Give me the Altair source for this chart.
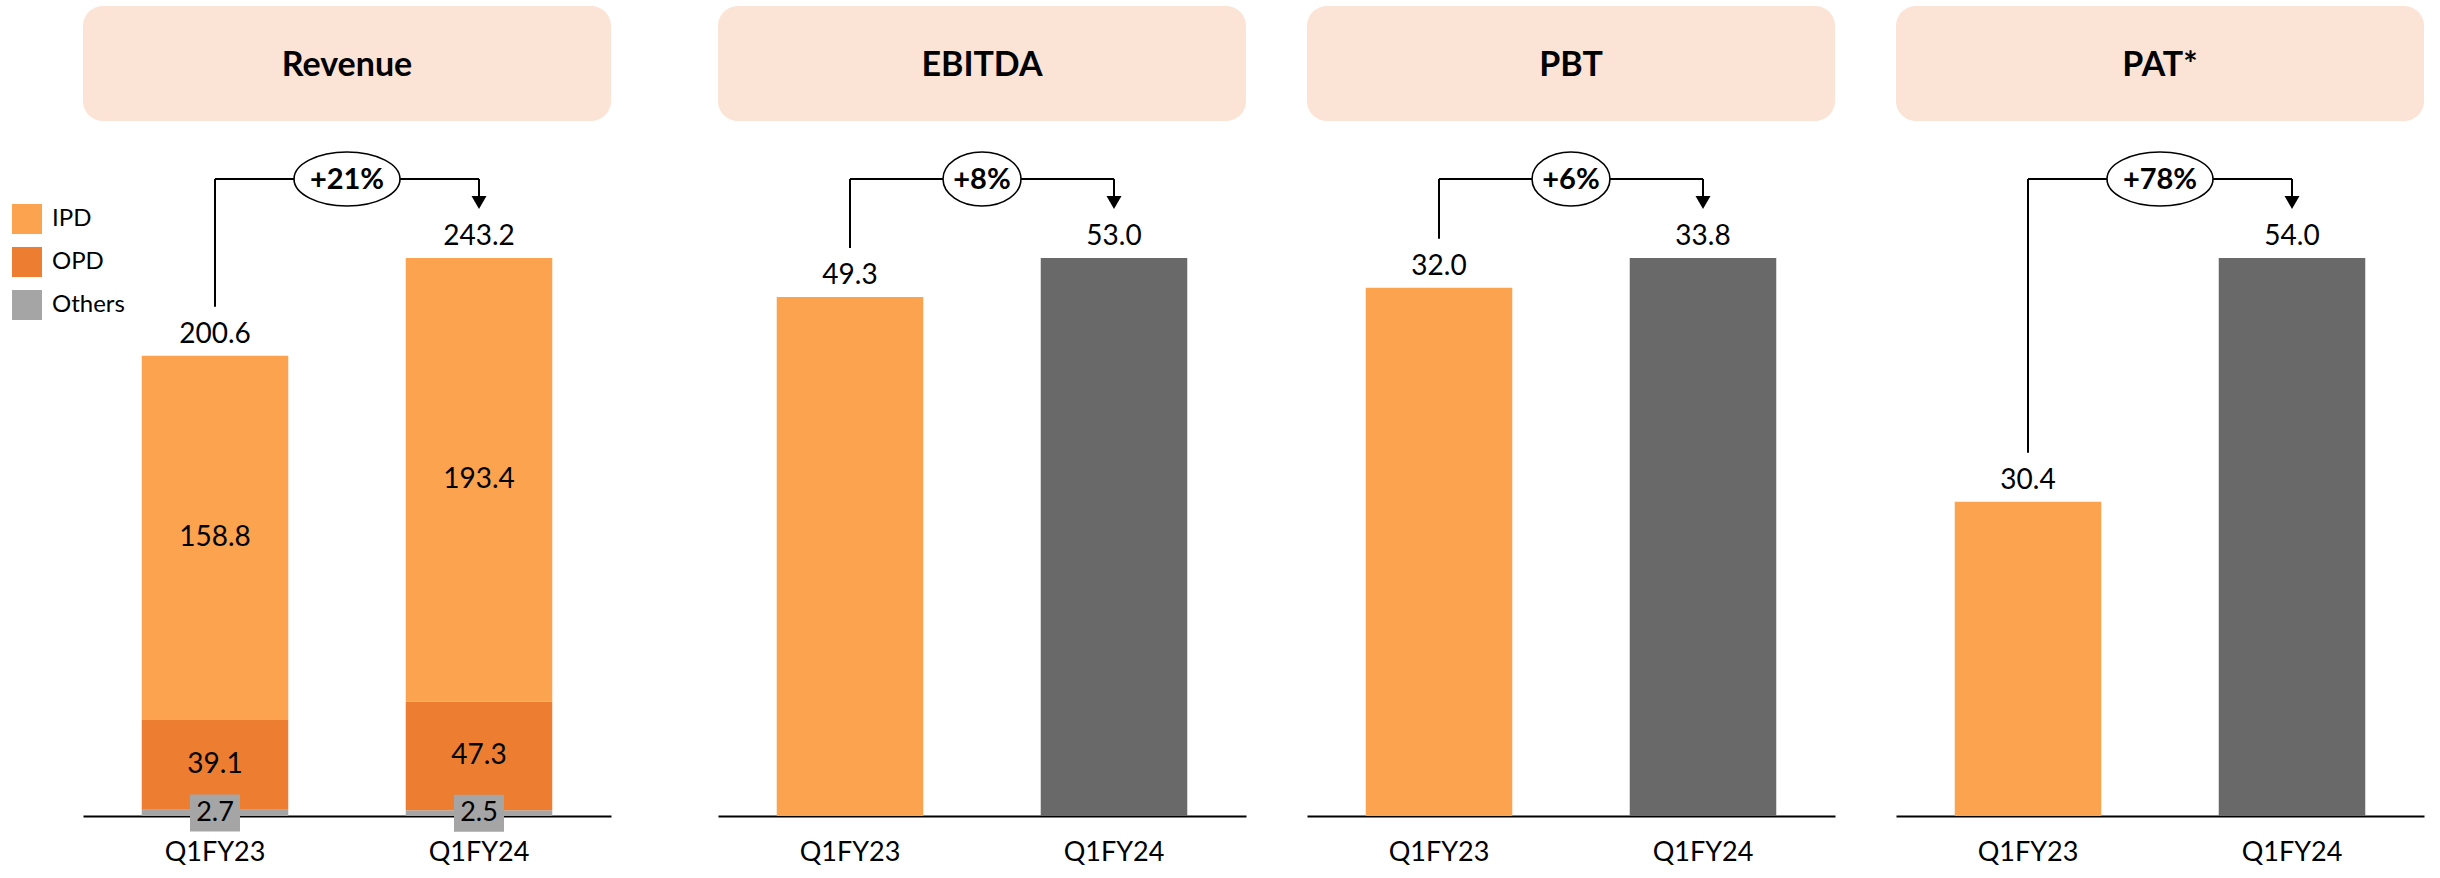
import altair as alt
import pandas as pd

# ---------------- data ----------------
quarters = ["Q1FY23", "Q1FY24"]
segments = ["IPD", "OPD", "Others"]
ipd = [158.8, 193.4]
opd = [39.1, 47.3]
others = [2.7, 2.5]
revenue_total = [200.6, 243.2]
ebitda = [49.3, 53.0]
pbt = [32.0, 33.8]
pat = [30.4, 54.0]
titles = ["Revenue", "EBITDA", "PBT", "PAT*"]
growth_labels = ["+21%", "+8%", "+6%", "+78%"]

# ---------------- style ----------------
FONT = "Lato"
C_IPD = "#FCA350"
C_OPD = "#ED7D31"
C_OTH = "#A5A5A5"
C_DARK = "#696969"
C_HEAD = "#FBE4D5"
W = 528
H = 810
BRACKET_Y = 173
LABEL_GAP = 13          # value label baseline above bar top
LINE_GAP = 49           # bracket start above bar top

xscale = alt.Scale(domain=quarters, paddingInner=0.445, paddingOuter=0.2225)
xaxis = alt.Axis(title=None)


def X(field):
    return alt.X(field, scale=xscale, axis=xaxis)


def yscale(maxv):
    return alt.Scale(domain=[0, maxv * H / 558.0], nice=False, zero=True)


def header(title):
    d = pd.DataFrame({"t": [title]})
    box = alt.Chart(d).mark_rect(fill=C_HEAD, cornerRadius=20).encode(
        x=alt.value(0), x2=alt.value(W), y=alt.value(0), y2=alt.value(115)
    )
    txt = alt.Chart(d).mark_text(
        font=FONT, fontSize=34, fontWeight="bold", color="black", baseline="middle"
    ).encode(text="t:N", x=alt.value(W / 2), y=alt.value(60))
    return [box, txt]


def bracket(v1, v2, g, ys):
    d = pd.DataFrame({"q1": [quarters[0]], "q2": [quarters[1]], "v1": [v1], "v2": [v2], "g": [g]})
    base = alt.Chart(d)
    left = base.mark_rule(color="black", strokeWidth=2, yOffset=-LINE_GAP).encode(
        x=X("q1:N"),
        y=alt.Y("v1:Q", scale=ys, axis=None),
        y2=alt.value(BRACKET_Y),
    )
    horiz = base.mark_rule(color="black", strokeWidth=2).encode(
        x=X("q1:N"),
        x2=alt.X2("q2"),
        y=alt.value(BRACKET_Y),
    )
    right = base.mark_rule(color="black", strokeWidth=2, yOffset=-LINE_GAP - 10).encode(
        x=X("q2:N"),
        y=alt.Y("v2:Q", scale=ys, axis=None),
        y2=alt.value(BRACKET_Y),
    )
    head = base.mark_point(
        shape="triangle-down", filled=True, color="black", opacity=1, size=225,
        yOffset=-LINE_GAP - 6.5,
    ).encode(
        x=X("q2:N"),
        y=alt.Y("v2:Q", scale=ys, axis=None),
    )
    ew = 78 if len(g) <= 3 else 106
    r = 54.0 / ew
    path = f"M-1,0A1,{r:.4f} 0 1,1 1,0A1,{r:.4f} 0 1,1 -1,0Z"
    ell = base.mark_point(
        shape=path, filled=True, fill="white", stroke="black", strokeWidth=1.6,
        opacity=1, size=ew * ew,
    ).encode(x=alt.value(W / 2), y=alt.value(BRACKET_Y))
    gtxt = base.mark_text(
        font=FONT, fontSize=29, fontWeight="bold", color="black", baseline="middle"
    ).encode(text="g:N", x=alt.value(W / 2), y=alt.value(BRACKET_Y + 1))
    return [left, horiz, right, head, ell, gtxt]


# ---------------- Revenue panel ----------------
rev_rows = []
for i, q in enumerate(quarters):
    rev_rows.append({"quarter": q, "segment": "Others", "ord": 0, "value": others[i]})
    rev_rows.append({"quarter": q, "segment": "OPD", "ord": 1, "value": opd[i]})
    rev_rows.append({"quarter": q, "segment": "IPD", "ord": 2, "value": ipd[i]})
rev_df = pd.DataFrame(rev_rows)
tot_df = pd.DataFrame({"quarter": quarters, "total": revenue_total})
ys_rev = yscale(max(revenue_total))

rev_base = alt.Chart(rev_df).transform_stack(
    stack="value", as_=["v0", "v1"], groupby=["quarter"], sort=[alt.SortField("ord", order="ascending")]
).transform_calculate(mid="(datum.v0 + datum.v1) / 2", lbl="format(datum.value, '.1f')")

rev_bars = rev_base.mark_bar().encode(
    x=X("quarter:N"),
    y=alt.Y("v0:Q", scale=ys_rev, axis=None),
    y2="v1:Q",
    color=alt.Color(
        "segment:N",
        scale=alt.Scale(domain=segments, range=[C_IPD, C_OPD, C_OTH]),
        legend=alt.Legend(
            orient="none", legendX=-71, legendY=198, title=None, symbolType="square",
            symbolSize=900, symbolStrokeWidth=0, symbolOpacity=1, labelFont=FONT,
            labelFontSize=24, labelColor="black", rowPadding=13, labelOffset=10,
        ),
    ),
)
rev_seg_txt = rev_base.transform_filter("datum.segment != 'Others'").mark_text(
    font=FONT, fontSize=28, color="black", baseline="middle"
).encode(
    x=X("quarter:N"),
    y=alt.Y("mid:Q", scale=ys_rev, axis=None),
    text="lbl:N",
)
oth_box = rev_base.transform_filter("datum.segment == 'Others'").mark_point(
    shape="M-1,-0.74L1,-0.74L1,0.74L-1,0.74Z", filled=True, fill=C_OTH, opacity=1,
    strokeWidth=0, size=2500,
).encode(
    x=X("quarter:N"),
    y=alt.Y("mid:Q", scale=ys_rev, axis=None),
)
oth_txt = rev_base.transform_filter("datum.segment == 'Others'").mark_text(
    font=FONT, fontSize=27, color="black", baseline="middle"
).encode(
    x=X("quarter:N"),
    y=alt.Y("mid:Q", scale=ys_rev, axis=None),
    text="lbl:N",
)
rev_tot_txt = alt.Chart(tot_df).transform_calculate(lbl="format(datum.total, '.1f')").mark_text(
    font=FONT, fontSize=28, color="black", baseline="alphabetic", dy=-LABEL_GAP
).encode(
    x=X("quarter:N"),
    y=alt.Y("total:Q", scale=ys_rev, axis=None),
    text="lbl:N",
)

rev_panel = alt.layer(
    *header(titles[0]), rev_bars, rev_seg_txt, oth_box, oth_txt, rev_tot_txt,
    *bracket(revenue_total[0], revenue_total[1], growth_labels[0], ys_rev),
).properties(width=W, height=H)


# ---------------- simple panels ----------------
def simple_panel(title, vals, g):
    d = pd.DataFrame({"quarter": quarters, "value": vals})
    ys = yscale(max(vals))
    base = alt.Chart(d).transform_calculate(lbl="format(datum.value, '.1f')")
    bars = base.mark_bar().encode(
        x=X("quarter:N"),
        y=alt.Y("value:Q", scale=ys, axis=None),
        color=alt.Color("quarter:N", scale=alt.Scale(domain=quarters, range=[C_IPD, C_DARK]), legend=None),
    )
    txt = base.mark_text(
        font=FONT, fontSize=28, color="black", baseline="alphabetic", dy=-LABEL_GAP
    ).encode(
        x=X("quarter:N"),
        y=alt.Y("value:Q", scale=ys, axis=None),
        text="lbl:N",
    )
    return alt.layer(
        *header(title), bars, txt, *bracket(vals[0], vals[1], g, ys)
    ).properties(width=W, height=H)


eb_panel = simple_panel(titles[1], ebitda, growth_labels[1])
pb_panel = simple_panel(titles[2], pbt, growth_labels[2])
pa_panel = simple_panel(titles[3], pat, growth_labels[3])

chart = alt.hconcat(
    rev_panel,
    alt.hconcat(eb_panel, pb_panel, pa_panel, spacing=61),
    spacing=107,
).resolve_scale(color="independent").properties(
    padding={"left": 12, "top": 6, "right": 5, "bottom": 5},
    background="white",
).configure_view(stroke=None).configure_axisX(
    labelAngle=0, ticks=False, labelFont=FONT, labelFontSize=27,
    labelColor="black", labelPadding=23, domainColor="black", domainWidth=2,
    labelLimit=0, grid=False,
)

chart.save("out.html", embed_options={"renderer": "svg", "actions": False})
